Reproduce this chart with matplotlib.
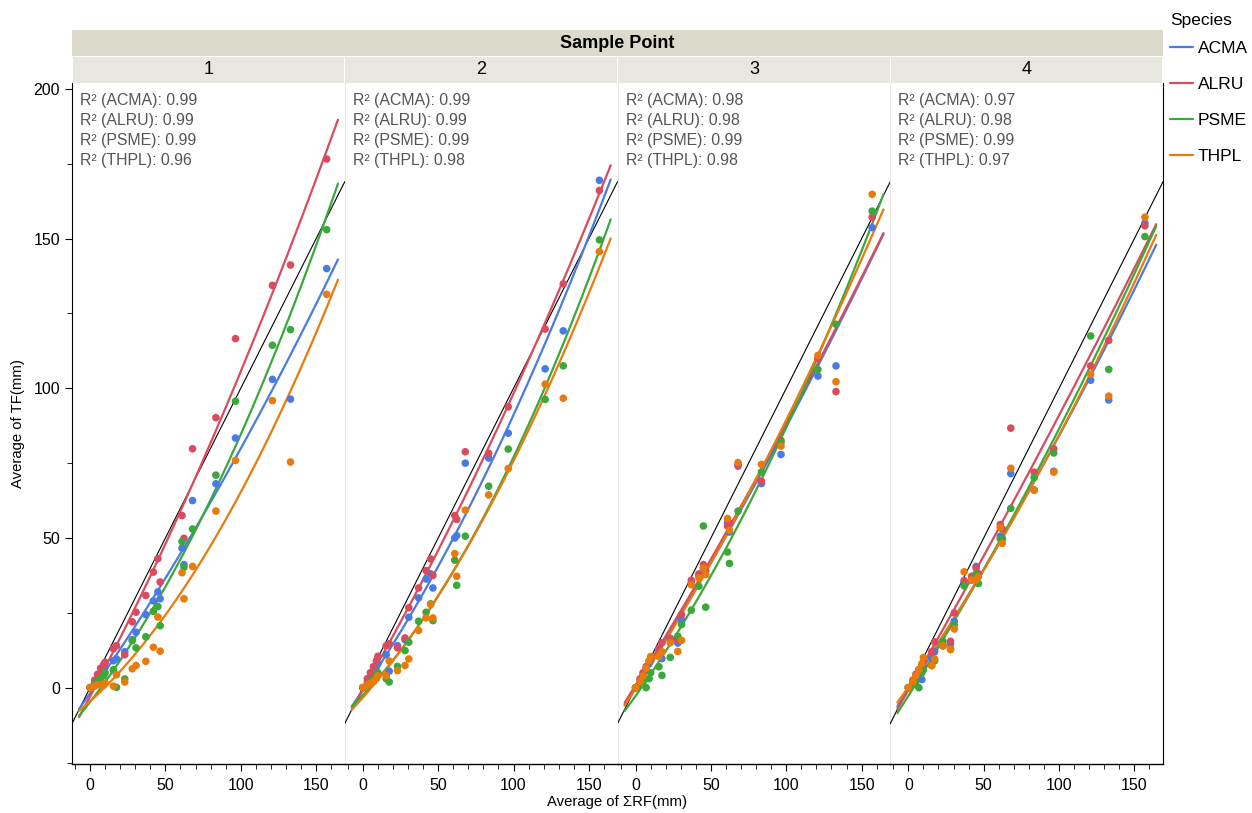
import matplotlib
matplotlib.use("Agg")
import matplotlib.pyplot as plt
import numpy as np

plt.rcParams["font.family"] = ["Liberation Sans", "DejaVu Sans"]

SPECIES = ["ACMA", "ALRU", "PSME", "THPL"]
COLORS = ["#4a7be0", "#d94b5e", "#3ba83b", "#e87b0c"]
PANELS = ["1", "2", "3", "4"]

# shared rainfall events (Average of ΣRF, mm)
RF = [0, 3, 5, 7, 9, 10, 15.5, 17.5, 23, 28, 30.5, 37, 42, 45, 46.5,
      61, 62.3, 68, 83.5, 96.5, 121, 133, 157]

# Average of TF (mm) per sample point, per species
P1_ACMA = [0, 1.5, 3, 4.5, 6, 7, 9, 9.6, 12, 16, 18.5, 24.4, 29, 32, 29.7, 46.6, 41.1, 62.5, 68.1, 83.4, 103, 96.4, 140]
P1_ALRU = [0, 2.5, 4.5, 6.5, 7.7, 8.5, 13, 14, 11, 22, 25.2, 30.8, 38.6, 43.1, 35.3, 57.5, 49.9, 79.8, 90.2, 116.6, 134.4, 141.2, 176.6]
P1_PSME = [0, 1, 2, 3, 4, 5, 6, 0.1, 2.9, 15.7, 13.3, 17, 25.5, 27.1, 20.7, 48.8, 40.2, 53, 71, 95.7, 114.4, 119.6, 153]
P1_THPL = [0, 0.5, 1, 1, 1, 1.5, 0.5, 4.3, 1.9, 6.3, 7.4, 8.8, 13.5, 23.6, 12.2, 38.4, 29.7, 40.5, 59, 75.9, 95.9, 75.4, 131.4]

P2_ACMA = [0, 2, 3.5, 5, 7, 8, 11, 5.5, 14, 16, 23.5, 30, 36.3, 38, 33.3, 50, 50.8, 75, 76.7, 85, 106.5, 119.2, 169.5]
P2_ALRU = [0, 3, 5, 7, 9, 10.5, 14, 14.7, 13.3, 16.6, 26.7, 33.3, 39.1, 43, 37.5, 57.5, 56.2, 78.8, 78.3, 93.8, 119.8, 134.9, 166.1]
P2_PSME = [0, 1, 2, 3, 4, 5, 3, 1.9, 7.1, 12.4, 15.2, 22.2, 25.2, 28, 22.4, 42.6, 34.2, 50.6, 67.3, 79.7, 96.3, 107.5, 149.6]
P2_THPL = [0, 1, 1.5, 2, 3, 4, 4, 8.9, 5.7, 7.4, 9.6, 19.1, 23.3, 27.8, 23.3, 44.8, 37.2, 59.3, 64.4, 73.2, 101.4, 96.7, 145.7]

P3_ACMA = [0, 2.5, 4.5, 6, 8, 9, 13, 9.7, 16, 14.9, 22.6, 35, 37.5, 39.8, 38, 55, 52, 74.5, 68.2, 77.9, 104.1, 107.5, 153.7]
P3_ALRU = [0, 3, 5, 7, 9, 9.5, 13, 15, 16.5, 16, 24.4, 35.9, 38, 41.1, 39, 54, 55, 74, 69, 82.6, 110, 98.9, 157.2]
P3_PSME = [0, 1, 2, 0, 3, 5, 7, 4.1, 10.1, 17.2, 21.1, 25.9, 33.9, 54, 26.9, 45.3, 41.5, 59, 72, 82, 106.3, 121.4, 159.2]
P3_THPL = [0, 2, 4, 6.5, 9, 10.4, 10.4, 12, 15, 12.1, 15.8, 34.4, 36.7, 40, 37.8, 56.5, 52.6, 75.2, 74.6, 80.7, 111, 102.2, 164.8]

P4_ACMA = [0, 1.5, 3, 4, 2.7, 7, 10, 12, 14, 14.7, 22.2, 35, 36, 40.5, 38, 50.6, 50, 71.5, 66, 72.3, 102.7, 96.1, 155.2]
P4_ALRU = [0, 2.5, 4.5, 6, 7.5, 8.5, 12, 15.3, 14, 15.5, 25, 35.8, 37.2, 40, 38, 54.5, 53, 86.7, 72, 79.8, 107.5, 116, 154.3]
P4_PSME = [0, 1, 2, 0, 5, 6, 7.4, 9, 15.5, 13, 21, 34, 36, 38, 34.8, 49.7, 49.5, 59.9, 70.2, 78.4, 117.5, 106.3, 150.7]
P4_THPL = [0, 2, 4, 6, 8, 10.1, 7.4, 9.6, 14, 12.7, 19.6, 38.7, 36, 36, 37, 53.5, 48.2, 73.3, 66, 72, 104.7, 97.4, 157.2]

TF = [
    [P1_ACMA, P1_ALRU, P1_PSME, P1_THPL],
    [P2_ACMA, P2_ALRU, P2_PSME, P2_THPL],
    [P3_ACMA, P3_ALRU, P3_PSME, P3_THPL],
    [P4_ACMA, P4_ALRU, P4_PSME, P4_THPL],
]

# R² as reported in the chart
R2 = [
    ["0.99", "0.99", "0.99", "0.96"],
    ["0.99", "0.99", "0.99", "0.98"],
    ["0.98", "0.98", "0.99", "0.98"],
    ["0.97", "0.98", "0.99", "0.97"],
]

XLIM = (-12, 169)
YLIM = (-25.5, 202)

fig = plt.figure(figsize=(12.52, 8.13), dpi=100)
L, R, B, T = 72 / 1252, 1163 / 1252, 1 - 764 / 813, 1 - 83 / 813
fig.subplots_adjust(left=L, right=R, bottom=B, top=T, wspace=0)
axes = fig.subplots(1, 4, sharey=True)

xfit = np.linspace(-7.3, 164.5, 200)
x = np.array(RF)
for p, ax in enumerate(axes):
    ax.plot(XLIM, XLIM, color="k", lw=0.8, zorder=2)
    for s, sp in enumerate(SPECIES):
        y = np.array(TF[p][s])
        coef = np.polyfit(x, y, 2)
        ax.plot(xfit, np.polyval(coef, xfit), color=COLORS[s], lw=1.6,
                solid_capstyle="round", zorder=3, label=sp)
        ax.scatter(x, y, s=30, color=COLORS[s], edgecolor="none", zorder=4)
        ax.text(8 / 272, (764 - (101 + 20 * s)) / 681, f"R² ({sp}): {R2[p][s]}",
                transform=ax.transAxes, fontsize=11.4, color="#555555", va="center")
    ax.set_xlim(XLIM)
    ax.set_ylim(YLIM)
    ax.set_xticks([0, 50, 100, 150])
    ax.set_xticks(np.arange(-10, 170, 10), minor=True)
    ax.tick_params(axis="x", which="major", length=5, labelsize=11.5, pad=5)
    ax.tick_params(axis="x", which="minor", length=3.5)
    for side in ["top", "left", "right"]:
        ax.spines[side].set_visible(False)
    if p > 0:
        ax.axvline(XLIM[0], color="#e0e0e0", lw=1.2, zorder=1)
        ax.tick_params(axis="y", which="both", left=False)
    ax.spines["bottom"].set_linewidth(1.0)

axes[0].spines["left"].set_visible(True)
axes[3].spines["right"].set_visible(True)
axes[0].set_yticks([0, 50, 100, 150, 200])
axes[0].set_yticks(np.arange(-25, 201, 25), minor=True)
axes[0].tick_params(axis="y", which="major", length=5, labelsize=11.5)
axes[0].tick_params(axis="y", which="minor", length=3.5)

# strips
pw = (R - L) / 4
for p in range(4):
    sax = fig.add_axes([L + p * pw + 0.0004, 1 - 83 / 813, pw - 0.0008, 26 / 813])
    sax.set_facecolor("#e7e7df")
    sax.set_xticks([]); sax.set_yticks([])
    for sp_ in sax.spines.values():
        sp_.set_visible(False)
    sax.text(0.5, 0.5, PANELS[p], ha="center", va="center", fontsize=13)
tax = fig.add_axes([L, 1 - 56 / 813, R - L, 26 / 813])
tax.set_facecolor("#dcdacb")
tax.set_xticks([]); tax.set_yticks([])
for sp_ in tax.spines.values():
    sp_.set_visible(False)
tax.text(0.5, 0.5, "Sample Point", ha="center", va="center", fontsize=13, fontweight="bold")

fig.text(18 / 1252, 1 - 423.5 / 813, "Average of TF(mm)", rotation=90,
         ha="center", va="center", fontsize=10.7)
fig.text(617 / 1252, 1 - 802 / 813, "Average of ΣRF(mm)", ha="center", va="center", fontsize=10.7)

# legend (title placed separately)
fig.text(1170 / 1252, 1 - 20 / 813, "Species", ha="left", va="center", fontsize=12.5)
handles, labels = axes[0].get_legend_handles_labels()
fig.legend(handles, labels, loc="upper left",
           bbox_to_anchor=(1163 / 1252, 1 - 34 / 813), frameon=False,
           fontsize=12.5, handlelength=1.3, handletextpad=0.3,
           labelspacing=1.2, borderaxespad=0)

fig.savefig("out.png", dpi=100)
